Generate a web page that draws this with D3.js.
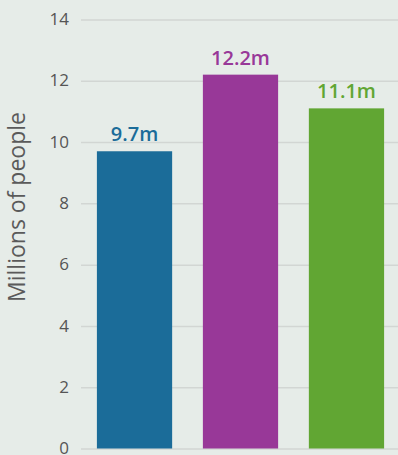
<!DOCTYPE html>
<html>
<head>
<meta charset="utf-8">
<script src="https://cdn.jsdelivr.net/npm/d3@7"></script>
<style>
	html, body { margin: 0; padding: 0; background: #e6ece8; }
	svg { display: block; }
	.tick text { font-family: "Open Sans", sans-serif; font-size: 17px; fill: #555; }
	.grid line { stroke: #d2d6d3; stroke-width: 1.5; }
	.value { font-family: "Open Sans", sans-serif; font-size: 20px; font-weight: 600; }
	.y-title { font-family: "Open Sans", sans-serif; font-size: 23px; fill: #5a5a5a; }
</style>
</head>
<body>
<script>
var categories = ["A", "B", "C"],
		values = [9.7, 12.2, 11.1],
		valueLabels = ["9.7m", "12.2m", "11.1m"],
		colors = ["#1b6c99", "#983898", "#61a633"],
		yTicks = [0, 2, 4, 6, 8, 10, 12, 14];

var width = 398,
		height = 455;

var svg = d3.select("body")
	.append("svg")
		.attr("width", width)
		.attr("height", height);

var x = d3.scaleBand()
		.domain(categories)
		.range([81, 400])
		.paddingInner(0.29)
		.paddingOuter(0.15),
		y = d3.scaleLinear()
		.domain([0, 14])
		.range([448.5, 19.5]);

// gridlines + tick labels
var yAxis = d3.axisLeft(y)
		.tickValues(yTicks)
		.tickSize(-(width - 81))
		.tickPadding(12);

svg.append("g")
		.attr("class", "grid")
		.attr("transform", "translate(81,0)")
		.call(yAxis)
		.call(function(g) { g.select(".domain").remove(); })
		.call(function(g) { g.selectAll(".tick text").attr("dy", "0.3em"); });

svg.append("g")
	.selectAll("rect")
	.data(values)
	.join("rect")
		.attr("x", function(d, i) { return x(categories[i]); })
		.attr("y", function(d) { return y(d); })
		.attr("width", x.bandwidth())
		.attr("height", function(d) { return y(0) - y(d); })
		.attr("fill", function(d, i) { return colors[i]; });

svg.append("g")
	.selectAll("text")
	.data(values)
	.join("text")
		.attr("class", "value")
		.attr("x", function(d, i) { return x(categories[i]) + x.bandwidth() / 2; })
		.attr("y", function(d) { return y(d) - 10; })
		.attr("text-anchor", "middle")
		.attr("fill", function(d, i) { return colors[i]; })
		.text(function(d, i) { return valueLabels[i]; });

svg.append("text")
		.attr("class", "y-title")
		.attr("transform", "translate(25,207) rotate(-90)")
		.attr("text-anchor", "middle")
		.text("Millions of people");
</script>
</body>
</html>
